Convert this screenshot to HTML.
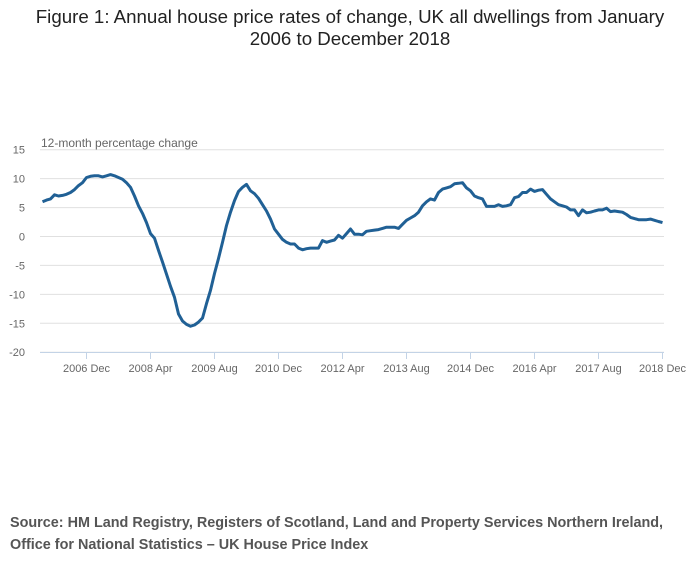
<!DOCTYPE html>
<html><head><meta charset="utf-8"><style>
body{margin:0;background:#fff;width:700px;height:574px;overflow:hidden;font-family:"Liberation Sans",sans-serif}
#title{position:absolute;left:0;top:6px;width:700px;text-align:center;font-size:18.7px;line-height:22px;color:#222}
#src{position:absolute;left:10px;top:512px;font-size:14.4px;line-height:22px;font-weight:bold;color:#555;white-space:nowrap}
svg{position:absolute;left:0;top:0}
</style></head><body>
<div id="title">Figure 1: Annual house price rates of change, UK all dwellings from January<br>2006 to December 2018</div>
<svg id="chart" width="700" height="574"></svg>
<div id="src">Source: HM Land Registry, Registers of Scotland, Land and Property Services Northern Ireland,<br>Office for National Statistics – UK House Price Index</div>
<script>
const yTicks=[15,10,5,0,-5,-10,-15,-20];
const xTickIdx=[11,27,43,59,75,91,107,123,139,155];
const xTickLabels=["2006 Dec","2008 Apr","2009 Aug","2010 Dec","2012 Apr","2013 Aug","2014 Dec","2016 Apr","2017 Aug","2018 Dec"];
const values=[6.0,6.3,6.5,7.2,7.0,7.1,7.3,7.6,8.1,8.8,9.3,10.2,
10.4,10.5,10.5,10.3,10.5,10.7,10.5,10.2,9.9,9.3,8.5,7.0,
5.3,4.0,2.4,0.5,-0.3,-2.4,-4.4,-6.5,-8.6,-10.5,-13.4,-14.6,
-15.2,-15.5,-15.3,-14.8,-14.1,-11.6,-9.3,-6.4,-3.8,-1.0,1.9,4.2,
6.2,7.8,8.5,9.0,7.9,7.4,6.6,5.5,4.4,3.0,1.3,0.4,
-0.5,-1.0,-1.3,-1.3,-2.0,-2.3,-2.1,-2.0,-2.0,-2.0,-0.7,-1.0,
-0.8,-0.6,0.2,-0.3,0.5,1.3,0.4,0.4,0.3,0.9,1.0,1.1,
1.2,1.4,1.6,1.6,1.6,1.4,2.1,2.8,3.2,3.6,4.2,5.3,
6.0,6.5,6.3,7.6,8.2,8.4,8.6,9.1,9.2,9.3,8.4,7.9,
7.0,6.7,6.5,5.2,5.2,5.2,5.5,5.2,5.3,5.5,6.7,6.9,
7.6,7.6,8.2,7.8,8.0,8.1,7.3,6.5,6.0,5.5,5.3,5.1,
4.6,4.6,3.6,4.6,4.1,4.2,4.4,4.6,4.6,4.9,4.3,4.4,
4.3,4.2,3.8,3.3,3.1,2.9,2.9,2.9,3.0,2.8,2.6,2.4];
const NS="http://www.w3.org/2000/svg";
const svg=document.getElementById('chart');
const X=i=>42.5+i*(620/155);
const Y=v=>236.5-v*(202.5/35);
function mk(t,a,txt){const e=document.createElementNS(NS,t);for(const k in a)e.setAttribute(k,a[k]);if(txt!=null)e.textContent=txt;svg.appendChild(e);return e;}
yTicks.forEach(v=>{
 const g=mk('line',{x1:40,x2:664,y1:Y(v),y2:Y(v),stroke:'#e0e0e0','stroke-width':1});
 
 
 const t=mk('text',{x:25,y:Y(v)+4,'text-anchor':'end','font-size':11,fill:'#666','font-family':'Liberation Sans, sans-serif'},String(v));
 
 
});
const yl=mk('text',{x:41,y:147,'font-size':12,fill:'#666','font-family':'Liberation Sans, sans-serif'},'12-month percentage change');


const ax=mk('line',{x1:40,x2:664,y1:352.5,y2:352.5,stroke:'#c3d3e6','stroke-width':1});


xTickIdx.forEach((ix,k)=>{
 const tk=mk('line',{x1:X(ix),x2:X(ix),y1:352,y2:359,stroke:'#c3d3e6','stroke-width':1});
 
 
 const t=mk('text',{x:X(ix),y:372,'text-anchor':'middle','font-size':11,fill:'#666','font-family':'Liberation Sans, sans-serif'},xTickLabels[k]);
 
 
});
const d=values.map((v,i)=>(i?'L':'M')+X(i).toFixed(1)+' '+Y(v).toFixed(1)).join(' ');
const p=mk('path',{d:d,fill:'none',stroke:'#206095','stroke-width':3,'stroke-linejoin':'round'});


</script>
</body></html>
